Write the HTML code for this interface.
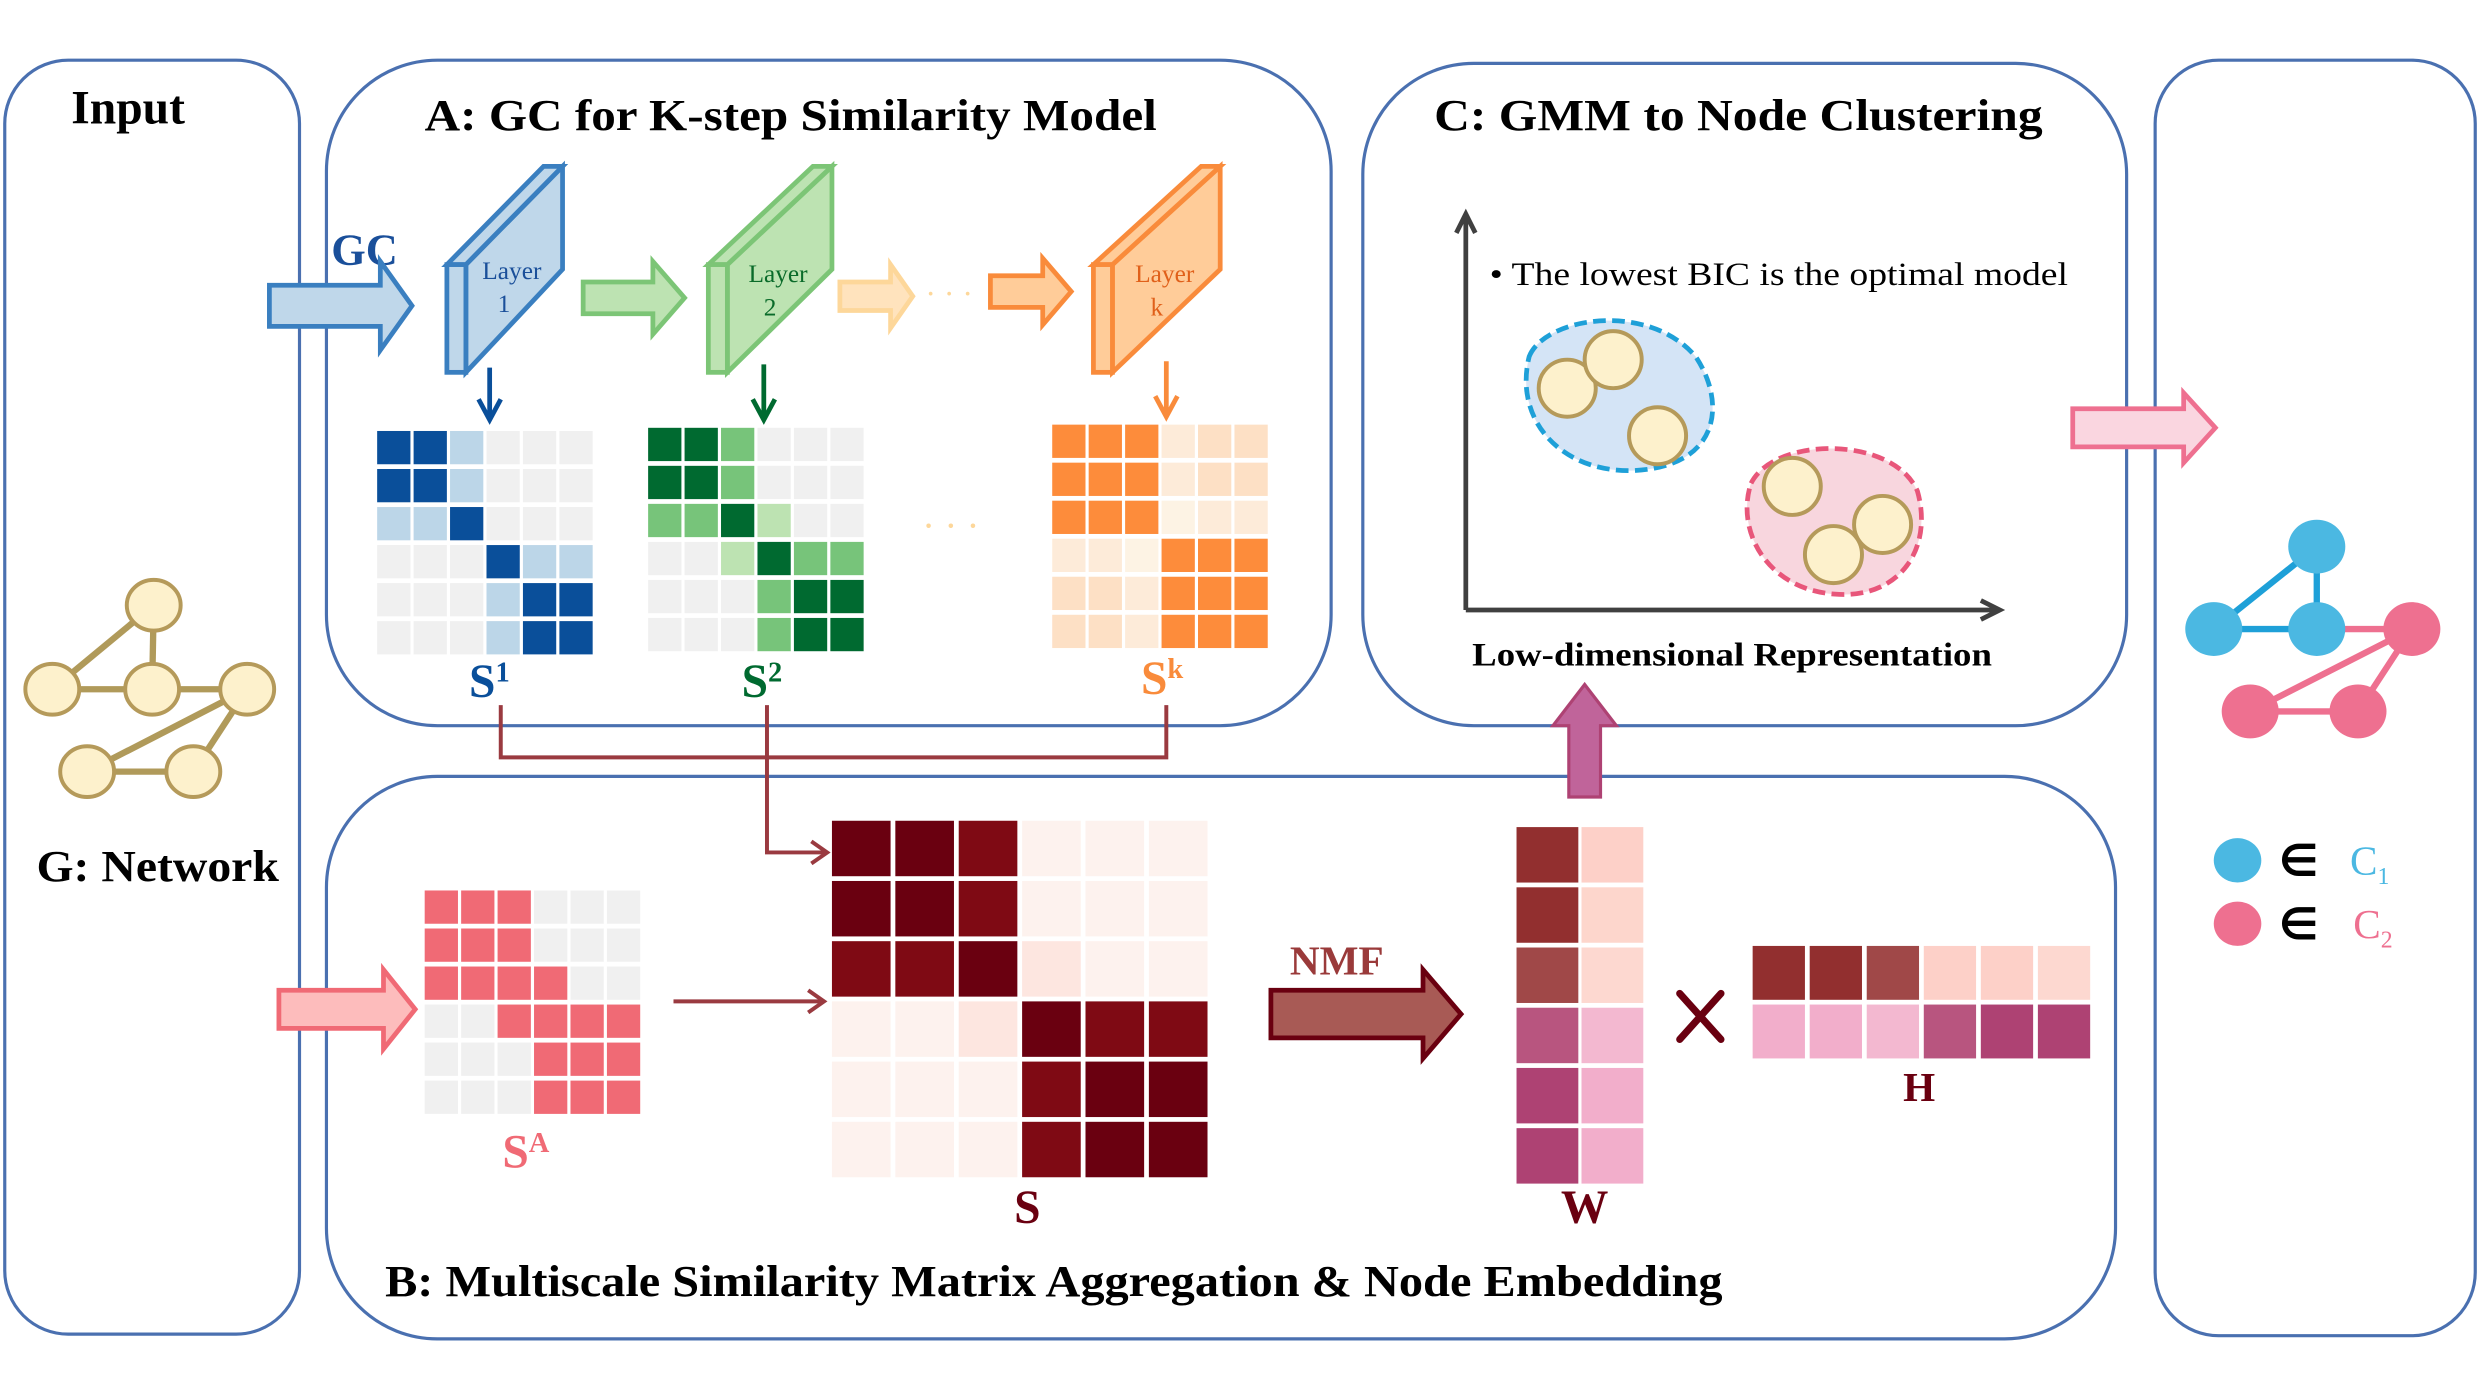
<!DOCTYPE html>
<html><head><meta charset="utf-8"><style>html,body{margin:0;padding:0;background:#fff}svg{display:block}</style></head>
<body>
<svg width="2480" height="1388" viewBox="0 0 1565 876" preserveAspectRatio="none" xmlns="http://www.w3.org/2000/svg" font-family="Liberation Serif, serif">
<g fill="none" stroke="#4a70b0" stroke-width="2">
<rect x="3" y="38" width="186" height="804" rx="40"/>
<rect x="206" y="38" width="634" height="420" rx="70"/>
<rect x="860" y="40" width="482" height="418" rx="70"/>
<rect x="1360" y="38" width="202" height="805" rx="40"/>
<rect x="206" y="490" width="1129" height="355" rx="70"/>
</g>
<g font-weight="bold" fill="#000">
<text x="45" y="78" font-size="30">Input</text>
<text x="268" y="82" font-size="28" textLength="462" lengthAdjust="spacingAndGlyphs">A:  GC  for K-step Similarity Model</text>
<text x="905" y="82" font-size="28" textLength="384" lengthAdjust="spacingAndGlyphs">C:   GMM to Node Clustering</text>
<text x="23" y="556" font-size="28" textLength="153" lengthAdjust="spacingAndGlyphs">G: Network</text>
<text x="243" y="818" font-size="28" textLength="844" lengthAdjust="spacingAndGlyphs">B:  Multiscale Similarity Matrix Aggregation &amp;  Node Embedding</text>
<text x="929" y="420" font-size="21" textLength="328" lengthAdjust="spacingAndGlyphs">Low-dimensional Representation</text>
</g>
<g stroke="#b09a5a" stroke-width="4">
<line x1="97" y1="382" x2="33" y2="435"/><line x1="97" y1="382" x2="96" y2="435"/>
<line x1="33" y1="435" x2="156" y2="435"/><line x1="156" y1="435" x2="55" y2="487"/>
<line x1="156" y1="435" x2="122" y2="487"/><line x1="55" y1="487" x2="122" y2="487"/>
</g>
<g fill="#fdf1cc" stroke="#b59a5a" stroke-width="2.5">
<ellipse cx="97" cy="382" rx="17" ry="16"/><ellipse cx="33" cy="435" rx="17" ry="16"/><ellipse cx="96" cy="435" rx="17" ry="16"/><ellipse cx="156" cy="435" rx="17" ry="16"/><ellipse cx="55" cy="487" rx="17" ry="16"/><ellipse cx="122" cy="487" rx="17" ry="16"/>
</g>
<text x="209" y="167" font-size="28" font-weight="bold" fill="#1a4f9a">GC</text>
<polygon points="170,180 240,180 240,165 260,193 240,221 240,206 170,206" fill="#bfd7ea" stroke="#3a7fc0" stroke-width="3"/>
<g stroke-width="3">
<g fill="#bfd7ea" stroke="#3a7fc0">
<polygon points="294,167 355,105 355,170 294,235"/><polygon points="282,167 343,105 355,105 294,167"/><rect x="282" y="167" width="12" height="68"/>
</g>
<g fill="#bde3b2" stroke="#7cc576">
<polygon points="459,167 525,105 525,170 459,235"/><polygon points="447,167 513,105 525,105 459,167"/><rect x="447" y="167" width="12" height="68"/>
</g>
<g fill="#ffcc99" stroke="#f98b3b">
<polygon points="702,167 770,105 770,170 702,235"/><polygon points="690,167 758,105 770,105 702,167"/><rect x="690" y="167" width="12" height="68"/>
</g>
<polygon points="368,178 412,178 412,165 432,188 412,211 412,198 368,198" fill="#bde3b2" stroke="#7cc576"/>
<polygon points="530,178 562,178 562,167 576,187 562,207 562,196 530,196" fill="#ffe3bd" stroke="#fdd79a"/>
<polygon points="625,174 658,174 658,163 676,184 658,205 658,194 625,194" fill="#ffcc99" stroke="#f98b3b"/>
</g>
<g font-size="16" text-anchor="middle">
<text x="323" y="176" fill="#1a4f9a">Layer</text><text x="318" y="197" fill="#1a4f9a">1</text>
<text x="491" y="178" fill="#0a6b2a">Layer</text><text x="486" y="199" fill="#0a6b2a">2</text>
<text x="735" y="178" fill="#e0601a">Layer</text><text x="730" y="199" fill="#e0601a">k</text>
</g>
<text x="584" y="192" font-size="20" fill="#fdd79a">· · ·</text>
<text x="582" y="340" font-size="24" fill="#fdd79a">· · ·</text>
<g stroke-width="3" fill="none">
<path d="M309,232 V263 M302,252 L309,265 L316,252" stroke="#0a4f9a"/>
<path d="M482,230 V263 M475,252 L482,265 L489,252" stroke="#006a30"/>
<path d="M736,228 V261 M729,250 L736,263 L743,250" stroke="#f98b3b"/>
</g>
<g font-weight="bold" font-size="30">
<text x="296" y="440" fill="#0a4f9a">S<tspan font-size="18" dy="-10">1</tspan></text>
<text x="468" y="440" fill="#006a30">S<tspan font-size="18" dy="-10">2</tspan></text>
<text x="720" y="438" fill="#f98b3b">S<tspan font-size="18" dy="-10">k</tspan></text>
<text x="317" y="737" fill="#f06a75">S<tspan font-size="18" dy="-10">A</tspan></text>
<text x="640" y="772" fill="#6a0010">S</text>
<text x="985" y="772" fill="#6a0010">W</text>
<text x="1201" y="695" fill="#6a0010" font-size="26">H</text>
<text x="814" y="615" fill="#9a3a3a" font-size="26">NMF</text>
</g>
<g stroke="#9a3a40" stroke-width="2.5" fill="none">
<path d="M316,445 V478 H736 V445"/>
<path d="M484,445 V538 H520"/>
<path d="M512,531 L522,538 L512,545"/>
<path d="M425,632 H518"/>
<path d="M510,625 L520,632 L510,639"/>
</g>
<polygon points="176,625 242,625 242,612 262,637 242,662 242,649 176,649" fill="#fdbcbc" stroke="#f06a75" stroke-width="3"/>
<polygon points="802,625 898,625 898,612 922,640 898,668 898,655 802,655" fill="#a85a55" stroke="#6a0010" stroke-width="3"/>
<g stroke="#6a0010" stroke-width="4.5" stroke-linecap="round"><line x1="1060" y1="627" x2="1086" y2="656"/><line x1="1086" y1="627" x2="1060" y2="656"/></g>
<polygon points="990,503 990,458 980,458 1000,432 1020,458 1010,458 1010,503" fill="#c0649a" stroke="#ae4273" stroke-width="2"/>
<g stroke="#404040" stroke-width="3" fill="none">
<path d="M925,385 V135 M919,147 L925,135 L931,147"/>
<path d="M925,385 H1262 M1250,379 L1262,385 L1250,391"/>
</g>
<text x="940" y="180" font-size="21" textLength="365" lengthAdjust="spacingAndGlyphs">•  The lowest BIC is the optimal model</text>
<path d="M965,225 C975,200 1040,190 1070,225 C1090,255 1085,295 1030,297 C985,298 955,265 965,225 Z" fill="#d4e4f6" stroke="#1ea0d8" stroke-width="3" stroke-dasharray="8,4"/>
<path d="M1105,305 C1120,275 1195,275 1210,310 C1220,345 1200,378 1158,375 C1115,372 1095,335 1105,305 Z" fill="#f8d6de" stroke="#e8567a" stroke-width="3" stroke-dasharray="8,4"/>
<g fill="#fdf1cc" stroke="#b59a5a" stroke-width="2.5">
<ellipse cx="989" cy="245" rx="18" ry="18"/><ellipse cx="1018" cy="227" rx="18" ry="18"/><ellipse cx="1046" cy="275" rx="18" ry="18"/>
<ellipse cx="1131" cy="307" rx="18" ry="18"/><ellipse cx="1157" cy="350" rx="18" ry="18"/><ellipse cx="1188" cy="331" rx="18" ry="18"/>
</g>
<polygon points="1308,258 1378,258 1378,248 1398,270 1378,292 1378,282 1308,282" fill="#fad6e0" stroke="#ee7090" stroke-width="3"/>
<g stroke-width="4">
<line x1="1462" y1="345" x2="1397" y2="397" stroke="#1ea0d8"/><line x1="1462" y1="345" x2="1462" y2="397" stroke="#1ea0d8"/><line x1="1397" y1="397" x2="1462" y2="397" stroke="#1ea0d8"/>
<line x1="1462" y1="397" x2="1522" y2="397" stroke="#ee7090"/><line x1="1522" y1="397" x2="1420" y2="449" stroke="#ee7090"/><line x1="1522" y1="397" x2="1488" y2="449" stroke="#ee7090"/><line x1="1420" y1="449" x2="1488" y2="449" stroke="#ee7090"/>
</g>
<g fill="#4bb8e2"><ellipse cx="1462" cy="345" rx="18" ry="17"/><ellipse cx="1397" cy="397" rx="18" ry="17"/><ellipse cx="1462" cy="397" rx="18" ry="17"/><ellipse cx="1412" cy="543" rx="15" ry="14"/></g>
<g fill="#ee7090"><ellipse cx="1522" cy="397" rx="18" ry="17"/><ellipse cx="1420" cy="449" rx="18" ry="17"/><ellipse cx="1488" cy="449" rx="18" ry="17"/><ellipse cx="1412" cy="583" rx="15" ry="14"/></g>
<text x="1438" y="553" font-size="28" font-family="DejaVu Sans, sans-serif" font-weight="bold">∈</text>
<text x="1438" y="593" font-size="28" font-family="DejaVu Sans, sans-serif" font-weight="bold">∈</text>
<text x="1483" y="552" font-size="26" fill="#4bb8e2">C<tspan font-size="15" dy="6">1</tspan></text>
<text x="1485" y="592" font-size="26" fill="#ee7090">C<tspan font-size="15" dy="6">2</tspan></text>
<g>
<g transform="translate(238,272)">
<rect x="0" y="0" width="21" height="21" fill="#0a4f9a"/><rect x="23" y="0" width="21" height="21" fill="#0a4f9a"/><rect x="46" y="0" width="21" height="21" fill="#bcd6e8"/><rect x="69" y="0" width="21" height="21" fill="#f0f0f0"/><rect x="92" y="0" width="21" height="21" fill="#f0f0f0"/><rect x="115" y="0" width="21" height="21" fill="#f0f0f0"/>
<rect x="0" y="24" width="21" height="21" fill="#0a4f9a"/><rect x="23" y="24" width="21" height="21" fill="#0a4f9a"/><rect x="46" y="24" width="21" height="21" fill="#bcd6e8"/><rect x="69" y="24" width="21" height="21" fill="#f0f0f0"/><rect x="92" y="24" width="21" height="21" fill="#f0f0f0"/><rect x="115" y="24" width="21" height="21" fill="#f0f0f0"/>
<rect x="0" y="48" width="21" height="21" fill="#bcd6e8"/><rect x="23" y="48" width="21" height="21" fill="#bcd6e8"/><rect x="46" y="48" width="21" height="21" fill="#0a4f9a"/><rect x="69" y="48" width="21" height="21" fill="#f0f0f0"/><rect x="92" y="48" width="21" height="21" fill="#f0f0f0"/><rect x="115" y="48" width="21" height="21" fill="#f0f0f0"/>
<rect x="0" y="72" width="21" height="21" fill="#f0f0f0"/><rect x="23" y="72" width="21" height="21" fill="#f0f0f0"/><rect x="46" y="72" width="21" height="21" fill="#f0f0f0"/><rect x="69" y="72" width="21" height="21" fill="#0a4f9a"/><rect x="92" y="72" width="21" height="21" fill="#bcd6e8"/><rect x="115" y="72" width="21" height="21" fill="#bcd6e8"/>
<rect x="0" y="96" width="21" height="21" fill="#f0f0f0"/><rect x="23" y="96" width="21" height="21" fill="#f0f0f0"/><rect x="46" y="96" width="21" height="21" fill="#f0f0f0"/><rect x="69" y="96" width="21" height="21" fill="#bcd6e8"/><rect x="92" y="96" width="21" height="21" fill="#0a4f9a"/><rect x="115" y="96" width="21" height="21" fill="#0a4f9a"/>
<rect x="0" y="120" width="21" height="21" fill="#f0f0f0"/><rect x="23" y="120" width="21" height="21" fill="#f0f0f0"/><rect x="46" y="120" width="21" height="21" fill="#f0f0f0"/><rect x="69" y="120" width="21" height="21" fill="#bcd6e8"/><rect x="92" y="120" width="21" height="21" fill="#0a4f9a"/><rect x="115" y="120" width="21" height="21" fill="#0a4f9a"/>
</g>
<g transform="translate(409,270)">
<rect x="0" y="0" width="21" height="21" fill="#006a30"/><rect x="23" y="0" width="21" height="21" fill="#006a30"/><rect x="46" y="0" width="21" height="21" fill="#77c47a"/><rect x="69" y="0" width="21" height="21" fill="#f0f0f0"/><rect x="92" y="0" width="21" height="21" fill="#f0f0f0"/><rect x="115" y="0" width="21" height="21" fill="#f0f0f0"/>
<rect x="0" y="24" width="21" height="21" fill="#006a30"/><rect x="23" y="24" width="21" height="21" fill="#006a30"/><rect x="46" y="24" width="21" height="21" fill="#77c47a"/><rect x="69" y="24" width="21" height="21" fill="#f0f0f0"/><rect x="92" y="24" width="21" height="21" fill="#f0f0f0"/><rect x="115" y="24" width="21" height="21" fill="#f0f0f0"/>
<rect x="0" y="48" width="21" height="21" fill="#77c47a"/><rect x="23" y="48" width="21" height="21" fill="#77c47a"/><rect x="46" y="48" width="21" height="21" fill="#006a30"/><rect x="69" y="48" width="21" height="21" fill="#bde3b2"/><rect x="92" y="48" width="21" height="21" fill="#f0f0f0"/><rect x="115" y="48" width="21" height="21" fill="#f0f0f0"/>
<rect x="0" y="72" width="21" height="21" fill="#f0f0f0"/><rect x="23" y="72" width="21" height="21" fill="#f0f0f0"/><rect x="46" y="72" width="21" height="21" fill="#bde3b2"/><rect x="69" y="72" width="21" height="21" fill="#006a30"/><rect x="92" y="72" width="21" height="21" fill="#77c47a"/><rect x="115" y="72" width="21" height="21" fill="#77c47a"/>
<rect x="0" y="96" width="21" height="21" fill="#f0f0f0"/><rect x="23" y="96" width="21" height="21" fill="#f0f0f0"/><rect x="46" y="96" width="21" height="21" fill="#f0f0f0"/><rect x="69" y="96" width="21" height="21" fill="#77c47a"/><rect x="92" y="96" width="21" height="21" fill="#006a30"/><rect x="115" y="96" width="21" height="21" fill="#006a30"/>
<rect x="0" y="120" width="21" height="21" fill="#f0f0f0"/><rect x="23" y="120" width="21" height="21" fill="#f0f0f0"/><rect x="46" y="120" width="21" height="21" fill="#f0f0f0"/><rect x="69" y="120" width="21" height="21" fill="#77c47a"/><rect x="92" y="120" width="21" height="21" fill="#006a30"/><rect x="115" y="120" width="21" height="21" fill="#006a30"/>
</g>
<g transform="translate(664,268)">
<rect x="0" y="0" width="21" height="21" fill="#fd8c3b"/><rect x="23" y="0" width="21" height="21" fill="#fd8c3b"/><rect x="46" y="0" width="21" height="21" fill="#fd8c3b"/><rect x="69" y="0" width="21" height="21" fill="#fdebd9"/><rect x="92" y="0" width="21" height="21" fill="#fde0c5"/><rect x="115" y="0" width="21" height="21" fill="#fde0c5"/>
<rect x="0" y="24" width="21" height="21" fill="#fd8c3b"/><rect x="23" y="24" width="21" height="21" fill="#fd8c3b"/><rect x="46" y="24" width="21" height="21" fill="#fd8c3b"/><rect x="69" y="24" width="21" height="21" fill="#fdebd9"/><rect x="92" y="24" width="21" height="21" fill="#fde0c5"/><rect x="115" y="24" width="21" height="21" fill="#fde0c5"/>
<rect x="0" y="48" width="21" height="21" fill="#fd8c3b"/><rect x="23" y="48" width="21" height="21" fill="#fd8c3b"/><rect x="46" y="48" width="21" height="21" fill="#fd8c3b"/><rect x="69" y="48" width="21" height="21" fill="#fdf3e4"/><rect x="92" y="48" width="21" height="21" fill="#fdebd9"/><rect x="115" y="48" width="21" height="21" fill="#fdebd9"/>
<rect x="0" y="72" width="21" height="21" fill="#fdebd9"/><rect x="23" y="72" width="21" height="21" fill="#fdebd9"/><rect x="46" y="72" width="21" height="21" fill="#fdf3e4"/><rect x="69" y="72" width="21" height="21" fill="#fd8c3b"/><rect x="92" y="72" width="21" height="21" fill="#fd8c3b"/><rect x="115" y="72" width="21" height="21" fill="#fd8c3b"/>
<rect x="0" y="96" width="21" height="21" fill="#fde0c5"/><rect x="23" y="96" width="21" height="21" fill="#fde0c5"/><rect x="46" y="96" width="21" height="21" fill="#fdebd9"/><rect x="69" y="96" width="21" height="21" fill="#fd8c3b"/><rect x="92" y="96" width="21" height="21" fill="#fd8c3b"/><rect x="115" y="96" width="21" height="21" fill="#fd8c3b"/>
<rect x="0" y="120" width="21" height="21" fill="#fde0c5"/><rect x="23" y="120" width="21" height="21" fill="#fde0c5"/><rect x="46" y="120" width="21" height="21" fill="#fdebd9"/><rect x="69" y="120" width="21" height="21" fill="#fd8c3b"/><rect x="92" y="120" width="21" height="21" fill="#fd8c3b"/><rect x="115" y="120" width="21" height="21" fill="#fd8c3b"/>
</g>
<g transform="translate(268,562)">
<rect x="0" y="0" width="21" height="21" fill="#f06a75"/><rect x="23" y="0" width="21" height="21" fill="#f06a75"/><rect x="46" y="0" width="21" height="21" fill="#f06a75"/><rect x="69" y="0" width="21" height="21" fill="#f0f0f0"/><rect x="92" y="0" width="21" height="21" fill="#f0f0f0"/><rect x="115" y="0" width="21" height="21" fill="#f0f0f0"/>
<rect x="0" y="24" width="21" height="21" fill="#f06a75"/><rect x="23" y="24" width="21" height="21" fill="#f06a75"/><rect x="46" y="24" width="21" height="21" fill="#f06a75"/><rect x="69" y="24" width="21" height="21" fill="#f0f0f0"/><rect x="92" y="24" width="21" height="21" fill="#f0f0f0"/><rect x="115" y="24" width="21" height="21" fill="#f0f0f0"/>
<rect x="0" y="48" width="21" height="21" fill="#f06a75"/><rect x="23" y="48" width="21" height="21" fill="#f06a75"/><rect x="46" y="48" width="21" height="21" fill="#f06a75"/><rect x="69" y="48" width="21" height="21" fill="#f06a75"/><rect x="92" y="48" width="21" height="21" fill="#f0f0f0"/><rect x="115" y="48" width="21" height="21" fill="#f0f0f0"/>
<rect x="0" y="72" width="21" height="21" fill="#f0f0f0"/><rect x="23" y="72" width="21" height="21" fill="#f0f0f0"/><rect x="46" y="72" width="21" height="21" fill="#f06a75"/><rect x="69" y="72" width="21" height="21" fill="#f06a75"/><rect x="92" y="72" width="21" height="21" fill="#f06a75"/><rect x="115" y="72" width="21" height="21" fill="#f06a75"/>
<rect x="0" y="96" width="21" height="21" fill="#f0f0f0"/><rect x="23" y="96" width="21" height="21" fill="#f0f0f0"/><rect x="46" y="96" width="21" height="21" fill="#f0f0f0"/><rect x="69" y="96" width="21" height="21" fill="#f06a75"/><rect x="92" y="96" width="21" height="21" fill="#f06a75"/><rect x="115" y="96" width="21" height="21" fill="#f06a75"/>
<rect x="0" y="120" width="21" height="21" fill="#f0f0f0"/><rect x="23" y="120" width="21" height="21" fill="#f0f0f0"/><rect x="46" y="120" width="21" height="21" fill="#f0f0f0"/><rect x="69" y="120" width="21" height="21" fill="#f06a75"/><rect x="92" y="120" width="21" height="21" fill="#f06a75"/><rect x="115" y="120" width="21" height="21" fill="#f06a75"/>
</g>
<g transform="translate(525,518)">
<rect x="0" y="0" width="37" height="35" fill="#6a0010"/><rect x="40" y="0" width="37" height="35" fill="#6a0010"/><rect x="80" y="0" width="37" height="35" fill="#7f0a14"/><rect x="120" y="0" width="37" height="35" fill="#fdf2ee"/><rect x="160" y="0" width="37" height="35" fill="#fdf2ee"/><rect x="200" y="0" width="37" height="35" fill="#fdf2ee"/>
<rect x="0" y="38" width="37" height="35" fill="#6a0010"/><rect x="40" y="38" width="37" height="35" fill="#6a0010"/><rect x="80" y="38" width="37" height="35" fill="#7f0a14"/><rect x="120" y="38" width="37" height="35" fill="#fdf2ee"/><rect x="160" y="38" width="37" height="35" fill="#fdf2ee"/><rect x="200" y="38" width="37" height="35" fill="#fdf2ee"/>
<rect x="0" y="76" width="37" height="35" fill="#7f0a14"/><rect x="40" y="76" width="37" height="35" fill="#7f0a14"/><rect x="80" y="76" width="37" height="35" fill="#6a0010"/><rect x="120" y="76" width="37" height="35" fill="#fde6e0"/><rect x="160" y="76" width="37" height="35" fill="#fdf2ee"/><rect x="200" y="76" width="37" height="35" fill="#fdf2ee"/>
<rect x="0" y="114" width="37" height="35" fill="#fdf2ee"/><rect x="40" y="114" width="37" height="35" fill="#fdf2ee"/><rect x="80" y="114" width="37" height="35" fill="#fde6e0"/><rect x="120" y="114" width="37" height="35" fill="#6a0010"/><rect x="160" y="114" width="37" height="35" fill="#7f0a14"/><rect x="200" y="114" width="37" height="35" fill="#7f0a14"/>
<rect x="0" y="152" width="37" height="35" fill="#fdf2ee"/><rect x="40" y="152" width="37" height="35" fill="#fdf2ee"/><rect x="80" y="152" width="37" height="35" fill="#fdf2ee"/><rect x="120" y="152" width="37" height="35" fill="#7f0a14"/><rect x="160" y="152" width="37" height="35" fill="#6a0010"/><rect x="200" y="152" width="37" height="35" fill="#6a0010"/>
<rect x="0" y="190" width="37" height="35" fill="#fdf2ee"/><rect x="40" y="190" width="37" height="35" fill="#fdf2ee"/><rect x="80" y="190" width="37" height="35" fill="#fdf2ee"/><rect x="120" y="190" width="37" height="35" fill="#7f0a14"/><rect x="160" y="190" width="37" height="35" fill="#6a0010"/><rect x="200" y="190" width="37" height="35" fill="#6a0010"/>
</g>
<g transform="translate(957,522)">
<rect x="0" y="0" width="39" height="35" fill="#922f2f"/><rect x="41" y="0" width="39" height="35" fill="#fdd0c8"/>
<rect x="0" y="38" width="39" height="35" fill="#922f2f"/><rect x="41" y="38" width="39" height="35" fill="#fdd6cc"/>
<rect x="0" y="76" width="39" height="35" fill="#a04848"/><rect x="41" y="76" width="39" height="35" fill="#fdd8d0"/>
<rect x="0" y="114" width="39" height="35" fill="#b8557f"/><rect x="41" y="114" width="39" height="35" fill="#f3b8d0"/>
<rect x="0" y="152" width="39" height="35" fill="#ae4273"/><rect x="41" y="152" width="39" height="35" fill="#f2aecb"/>
<rect x="0" y="190" width="39" height="35" fill="#ae4273"/><rect x="41" y="190" width="39" height="35" fill="#f2aecb"/>
</g>
<g transform="translate(1106,597)">
<rect x="0" y="0" width="33" height="34" fill="#922f2f"/><rect x="36" y="0" width="33" height="34" fill="#922f2f"/><rect x="72" y="0" width="33" height="34" fill="#a04848"/><rect x="108" y="0" width="33" height="34" fill="#fdd0c8"/><rect x="144" y="0" width="33" height="34" fill="#fdd0c8"/><rect x="180" y="0" width="33" height="34" fill="#fdd8d0"/>
<rect x="0" y="37" width="33" height="34" fill="#f2aecb"/><rect x="36" y="37" width="33" height="34" fill="#f2aecb"/><rect x="72" y="37" width="33" height="34" fill="#f3b8d0"/><rect x="108" y="37" width="33" height="34" fill="#b8557f"/><rect x="144" y="37" width="33" height="34" fill="#ae4273"/><rect x="180" y="37" width="33" height="34" fill="#ae4273"/>
</g>
</g>
</svg>
</body></html>
